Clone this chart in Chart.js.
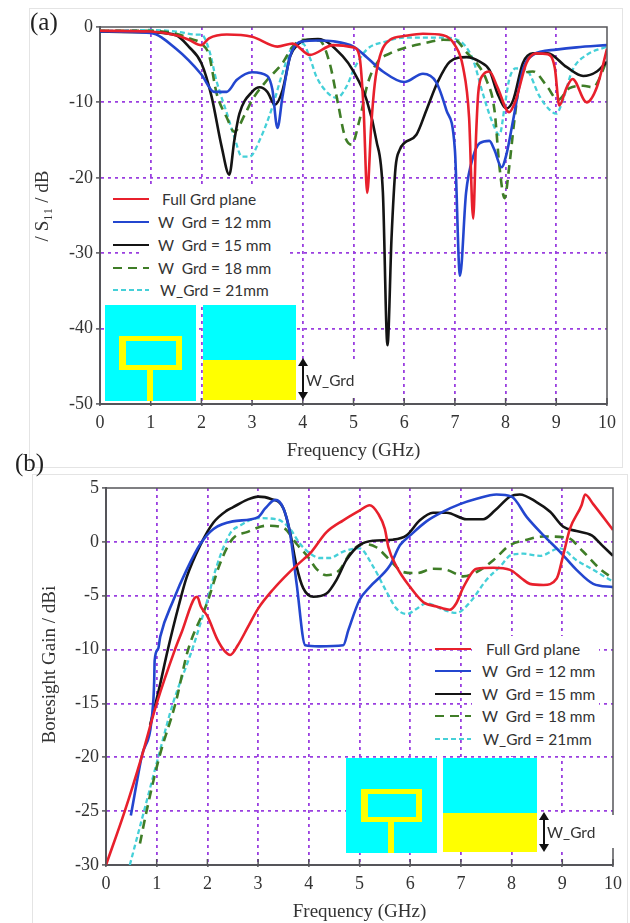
<!DOCTYPE html>
<html>
<head>
<meta charset="utf-8">
<title>S11 and boresight gain</title>
<script src="https://cdn.jsdelivr.net/npm/chart.js@4"></script>
<style>
    html, body { margin: 0; padding: 0; background: #fff; }
    #page { position: relative; width: 630px; height: 923px; overflow: hidden; filter: blur(0.45px); }
    #page canvas { position: absolute; left: 0; }
    .frame { position: absolute; border: 1px solid #e4e4e4; box-sizing: border-box; }
    .panel-tag { position: absolute; font: 25px "Liberation Serif", serif; color: #222; }
    .mask { position: absolute; background: #fff; }
    .legend-text { position: absolute; font: 15.5px Lato, sans-serif; color: #333; white-space: pre; line-height: 16px; }
    .block { position: absolute; }
    .cyan { background: #00ffff; }
    .yellow { background: #ffff00; }
    .dim-label { position: absolute; font: 15.5px Lato, sans-serif; color: #333; }
</style>
</head>
<body>
<div id="page">
    <div class="frame" style="left:29px;top:8px;width:594px;height:460px"></div>
    <div class="frame" style="left:32px;top:474px;width:596px;height:460px"></div>
    <canvas id="s11Chart"></canvas>
    <canvas id="gainChart"></canvas>
</div>
<script>
// tick labels
const freqTicks = [0, 1, 2, 3, 4, 5, 6, 7, 8, 9, 10];
const s11Ticks = [0, -10, -20, -30, -40, -50];
const gainTicks = [5, 0, -5, -10, -15, -20, -25, -30];

// legend
const seriesNames = ['Full Grd plane', 'W  Grd = 12 mm', 'W  Grd = 15 mm', 'W  Grd = 18 mm', 'W_Grd = 21mm'];
const seriesColors = ['#e8202c', '#2346cf', '#141414', '#3f7d27', '#45d0d8'];
const seriesDash = [[], [], [], [9, 6], [5, 3]];
const seriesWidth = [2.6, 2.6, 2.6, 2.6, 2.3];

// (a) S11, GHz / dB
const fullFreqA = [0, 1, 1.5, 1.75, 2, 2.15, 2.5, 3, 3.5, 3.8, 4.14, 4.6, 5, 5.12, 5.2, 5.27, 5.35, 5.42, 5.52, 5.72, 6, 6.37, 6.77, 7, 7.16, 7.28, 7.36, 7.42, 7.46, 7.55, 7.68, 7.84, 8.07, 8.2, 8.41, 8.6, 8.83, 8.97, 9.06, 9.2, 9.32, 9.6, 9.8, 10];
const fullS11 = [-0.5, -0.6, -1.1, -1.7, -2.4, -1.5, -1, -1.3, -2.6, -2.2, -3.7, -2.4, -2.7, -4, -11, -22, -13, -7.5, -3.9, -1.7, -1.2, -0.9, -1.1, -2.4, -5.3, -12, -25.4, -14, -8.8, -6.4, -5.9, -8, -11.3, -9.7, -4.8, -3.5, -3.6, -5.4, -10.4, -8.1, -6.9, -10, -8, -2.9];
const w12FreqA = [0, 1, 1.5, 2, 2.25, 2.5, 2.7, 3, 3.3, 3.4, 3.5, 3.6, 3.75, 4, 4.3, 4.6, 5, 5.26, 5.58, 6, 6.37, 6.63, 6.83, 7, 7.1, 7.22, 7.36, 7.49, 7.68, 7.78, 7.92, 8.02, 8.15, 8.34, 8.54, 9, 9.4, 10];
const w12S11 = [-0.6, -0.8, -2.9, -6.3, -8.6, -8.6, -7, -6, -6.5, -8.3, -13.4, -9.2, -3.9, -1.9, -1.8, -1.9, -2.6, -4, -5.9, -7.3, -6.2, -7.3, -11, -16.3, -33, -22, -17.2, -15.4, -15.1, -16.3, -18.6, -16.8, -12.3, -5.7, -3.7, -3, -2.7, -2.4];
const w15FreqA = [0, 1, 1.5, 1.75, 2, 2.2, 2.4, 2.55, 2.65, 2.75, 3, 3.15, 3.3, 3.45, 3.6, 3.75, 3.9, 4.1, 4.3, 4.79, 5, 5.26, 5.45, 5.58, 5.67, 5.75, 5.83, 5.91, 6, 6.24, 6.44, 6.66, 6.9, 7.23, 7.49, 7.68, 7.84, 8.02, 8.15, 8.34, 8.54, 8.83, 9.2, 9.53, 9.8, 10];
const w15S11 = [-0.6, -0.7, -1.1, -2.6, -4.8, -9.2, -15.9, -19.6, -15, -11.5, -8.6, -8, -8.6, -10.3, -8.4, -3.9, -2.3, -1.7, -1.6, -3.9, -5.9, -9.7, -15, -22, -42.2, -28, -18.6, -16.3, -15.4, -14.3, -11, -7.3, -4.6, -4, -4.6, -5.7, -8.8, -10.8, -9.7, -4.8, -3.5, -3.5, -5.3, -6.5, -5.9, -4.6];
const w18FreqA = [0, 1, 1.5, 1.8, 2, 2.15, 2.3, 2.5, 2.65, 2.85, 3, 3.3, 3.6, 3.8, 4, 4.33, 4.53, 4.69, 4.83, 4.96, 5.12, 5.28, 5.48, 5.72, 6, 6.37, 6.77, 7.02, 7.22, 7.43, 7.62, 7.78, 7.88, 7.98, 8.07, 8.18, 8.3, 8.54, 8.83, 9.03, 9.26, 9.53, 9.72, 10];
const w18S11 = [-0.5, -0.5, -0.9, -1.6, -2.2, -3.7, -8.8, -12, -13.9, -11.7, -9.7, -7, -4.8, -2.6, -1.7, -1.8, -4.8, -10, -14.5, -15.6, -12.3, -7.5, -4.6, -3.5, -2.8, -2.2, -1.7, -1.8, -3.3, -4.8, -7, -11, -18.6, -22.7, -18.6, -12, -6.6, -5.9, -8, -9.7, -8.1, -7.8, -8, -4.5];
const w21FreqA = [0, 1, 1.5, 1.9, 2, 2.15, 2.3, 2.5, 2.65, 2.8, 2.95, 3.15, 3.4, 3.6, 3.8, 4, 4.14, 4.27, 4.5, 4.67, 4.87, 5, 5.26, 5.65, 6, 6.77, 7.16, 7.36, 7.55, 7.72, 7.88, 7.98, 8.07, 8.2, 8.41, 8.67, 8.87, 9, 9.13, 9.32, 9.6, 10];
const w21S11 = [-0.5, -0.4, -0.6, -1, -1, -3, -7.2, -11.4, -14.6, -17.2, -17.2, -15, -10.6, -6.1, -2.6, -2.2, -4.1, -6.6, -8.8, -9.4, -7.8, -5.7, -3, -1.9, -1.4, -1.4, -2.2, -4.4, -8.8, -12.3, -14.3, -10.6, -7, -5.5, -5.7, -9.2, -11, -11.5, -9.7, -5.7, -3.7, -2.6];

// (b) gain, GHz / dBi
const fullFreqB = [0, 0.37, 0.7, 1, 1.36, 1.5, 1.75, 1.8, 1.87, 2, 2.2, 2.35, 2.45, 2.6, 2.8, 3, 3.3, 3.6, 3.9, 4.02, 4.35, 4.68, 5, 5.2, 5.37, 5.5, 5.57, 5.73, 6, 6.26, 6.52, 6.78, 6.91, 7.05, 7.31, 7.64, 7.97, 8.2, 8.36, 8.63, 8.89, 9.02, 9.15, 9.38, 9.45, 9.61, 10];
const fullGain = [-30, -25, -20, -15, -10, -8.3, -5.2, -5.1, -6, -6.9, -9.1, -10.2, -10.5, -9.6, -7.9, -6.2, -4.4, -2.9, -1.6, -1.1, 0.9, 2, 2.9, 3.4, 2.6, 1.2, -0.5, -2.3, -4.2, -5.6, -6, -6.3, -5.7, -4.2, -2.5, -2.4, -2.6, -3.4, -3.9, -4, -3.4, -1.2, 1.2, 3.4, 4.4, 3.5, 1.1];
const w12FreqB = [0.49, 0.7, 0.93, 0.95, 0.96, 1.03, 1.07, 1.33, 1.59, 1.86, 2.12, 2.5, 3, 3.14, 3.34, 3.5, 3.63, 3.76, 3.93, 4.2, 4.68, 4.78, 5, 5.2, 5.6, 5.8, 6, 6.32, 6.65, 6.98, 7.31, 7.7, 8, 8.3, 8.63, 8.95, 9.28, 9.61, 10];
const w12Gain = [-25.4, -20, -15, -13, -11, -9.9, -8.8, -5.4, -2.6, -0.2, 1.2, 1.9, 2.3, 3.1, 3.9, 3.1, 0.8, -3.9, -9.6, -9.7, -9.6, -8.2, -5.4, -4.2, -2.2, -0.3, 0.6, 1.9, 2.8, 3.5, 4, 4.4, 4.2, 2.3, 0.6, -0.9, -2.6, -3.9, -4.2];
const w15FreqB = [0.87, 1.03, 1.22, 1.43, 1.59, 1.86, 2.12, 2.38, 2.5, 2.78, 3, 3.24, 3.5, 3.63, 3.76, 3.89, 4.09, 4.35, 4.55, 4.74, 5, 5.27, 5.66, 5.93, 6.19, 6.45, 6.72, 7.11, 7.44, 7.67, 7.97, 8.16, 8.49, 8.76, 9.02, 9.28, 9.58, 9.78, 10];
const w15Gain = [-17, -14, -10, -6, -3.3, -0.3, 1.8, 2.9, 3.2, 3.9, 4.2, 4, 3.1, 0.9, -2.3, -4.3, -5.1, -4.8, -3.5, -1.7, -0.3, 0.1, 0.2, 0.6, 2, 2.7, 2.7, 2.1, 2.1, 2.9, 4.2, 4.4, 3.7, 2.8, 1.4, 1, 0.6, -0.3, -1.3];
const w18FreqB = [0.67, 0.8, 1.05, 1.37, 1.62, 2, 2.25, 2.5, 2.78, 3.17, 3.5, 3.76, 4, 4.15, 4.35, 4.61, 4.81, 5.07, 5.33, 5.6, 5.86, 6.13, 6.45, 6.72, 7.05, 7.31, 7.64, 7.97, 8.3, 8.63, 9.09, 9.41, 9.74, 10];
const w18Gain = [-28, -25, -20, -15, -10, -5.6, -2, 0.3, 0.9, 1.5, 1.3, -0.2, -1.5, -2.5, -3.1, -2.6, -1.1, -0.2, -0.5, -1.7, -2.8, -2.9, -2.5, -2.6, -3.2, -2.8, -1.7, -0.3, 0.2, 0.5, 0.4, -0.9, -2.5, -3.4];
const w21FreqB = [0.47, 0.75, 1.03, 1.32, 1.7, 2, 2.18, 2.45, 2.64, 3, 3.37, 3.63, 3.83, 4.03, 4.22, 4.41, 4.68, 5, 5.27, 5.53, 5.73, 5.93, 6.13, 6.32, 6.65, 6.91, 7.18, 7.51, 7.77, 8, 8.23, 8.56, 8.95, 9.28, 9.61, 10];
const w21Gain = [-30, -25, -20, -15, -10, -5.4, -2.3, 0.8, 1.5, 2.2, 2.1, 1.2, -0.2, -1.1, -1.5, -1.5, -0.9, -0.6, -2.3, -4.6, -6.2, -6.7, -6.2, -5.7, -6.3, -6.6, -5.6, -3.5, -2.3, -1.2, -1.1, -1.3, -0.6, -1.7, -2.6, -3.7];

const axisColor = '#55555a';
const gridColor = '#9a3fe0';
const tickFont = { family: '"Liberation Serif", serif', size: 18 };
const titleFont = { family: '"Liberation Serif", serif', size: 19 };

function toPoints(xs, ys) {
    return xs.map((x, i) => ({ x: x, y: ys[i] }));
}

function buildDatasets(pairs) {
    return pairs.map((pair, i) => ({
        label: seriesNames[i],
        data: toPoints(pair[0], pair[1]),
        borderColor: seriesColors[i],
        borderWidth: seriesWidth[i],
        borderDash: seriesDash[i],
        pointRadius: 0,
        cubicInterpolationMode: 'monotone',
        fill: false
    }));
}

// draws the top/right spines and the short inner ticks of the original axes
const spinePlugin = {
    id: 'spines',
    afterDatasetsDraw(chart) {
        const { ctx, chartArea: a, scales } = chart;
        ctx.save();
        ctx.strokeStyle = axisColor;
        ctx.lineWidth = 1.5;
        ctx.beginPath();
        ctx.moveTo(a.left, a.top);
        ctx.lineTo(a.right, a.top);
        ctx.lineTo(a.right, a.bottom);
        ctx.stroke();
        ctx.beginPath();
        scales.x.ticks.forEach(t => {
            const px = scales.x.getPixelForValue(t.value);
            ctx.moveTo(px, a.bottom);
            ctx.lineTo(px, a.bottom - 6);
        });
        ctx.stroke();
        ctx.restore();
    }
};

// pins the plot rectangle to the pixels measured on the reference
function makeChart(id, canvasTop, canvasHeight, box, yTicks, yMin, yMax, yTitle, pairs) {
    const canvas = document.getElementById(id);
    canvas.width = 630;
    canvas.height = canvasHeight;
    canvas.style.top = canvasTop + 'px';
    const edgeHidden = (min, max) => ctx => (ctx.tick && (ctx.tick.value === min || ctx.tick.value === max)) ? 'transparent' : gridColor;
    return new Chart(canvas, {
        type: 'line',
        data: { datasets: buildDatasets(pairs) },
        options: {
            responsive: false,
            animation: false,
            devicePixelRatio: 1,
            layout: { padding: { top: box.top, right: 630 - box.right, left: 0, bottom: 0 } },
            plugins: { legend: { display: false }, tooltip: { enabled: false } },
            scales: {
                x: {
                    type: 'linear',
                    min: 0,
                    max: 10,
                    afterBuildTicks: s => { s.ticks = freqTicks.map(v => ({ value: v })); },
                    afterFit: s => { s.height = canvasHeight - box.bottom; },
                    ticks: { font: tickFont, color: '#333', maxRotation: 0, autoSkip: false, padding: 6, callback: v => String(v) },
                    grid: { color: edgeHidden(0, 10), lineWidth: 1.8, tickColor: axisColor, tickLength: 2, tickWidth: 1.5 },
                    border: { color: axisColor, width: 2, dash: [3, 4] },
                    title: { display: true, text: 'Frequency (GHz)', font: titleFont, color: '#333', padding: { top: 3, bottom: 0 } }
                },
                y: {
                    type: 'linear',
                    min: yMin,
                    max: yMax,
                    afterBuildTicks: s => { s.ticks = yTicks.map(v => ({ value: v })); },
                    afterFit: s => { s.width = box.left; },
                    ticks: { font: tickFont, color: '#333', autoSkip: false, padding: 3, callback: v => String(v) },
                    grid: { color: edgeHidden(yMin, yMax), lineWidth: 1.8, tickColor: axisColor, tickLength: 4, tickWidth: 1.5 },
                    border: { color: axisColor, width: 2, dash: [3, 4] },
                    title: { display: true, text: yTitle, font: titleFont, color: '#333', padding: { top: box.titleTop, bottom: 0 } }
                }
            }
        },
        plugins: [spinePlugin]
    });
}

function addEl(cls, left, top, width, height, text) {
    const el = document.createElement('div');
    el.className = cls;
    el.style.left = left + 'px';
    el.style.top = top + 'px';
    if (width) el.style.width = width + 'px';
    if (height) el.style.height = height + 'px';
    if (text) el.textContent = text;
    document.getElementById('page').appendChild(el);
    return el;
}

// HTML legend, same series styles as the chart
function addLegend(sampleX, rowYs, textXs) {
    seriesNames.forEach((name, i) => {
        const svgNs = 'http://www.w3.org/2000/svg';
        const svg = document.createElementNS(svgNs, 'svg');
        svg.setAttribute('width', 36);
        svg.setAttribute('height', 4);
        svg.style.cssText = 'position:absolute;left:' + sampleX + 'px;top:' + (rowYs[i] - 2) + 'px';
        const line = document.createElementNS(svgNs, 'line');
        line.setAttribute('x1', 0);
        line.setAttribute('x2', 36);
        line.setAttribute('y1', 2);
        line.setAttribute('y2', 2);
        line.setAttribute('stroke', seriesColors[i]);
        line.setAttribute('stroke-width', 2);
        if (seriesDash[i].length) line.setAttribute('stroke-dasharray', seriesDash[i].join(' '));
        svg.appendChild(line);
        document.getElementById('page').appendChild(svg);
        addEl('legend-text', textXs[i], rowYs[i] - 8, 0, 0, name);
    });
}

function addInset(x1, x2, top, bottom, yellowTop, ring, stem) {
    // x1 = patch sheet, x2 = ground sheet
    addEl('block cyan', x1[0], top, x1[1] - x1[0], bottom - top);
    addEl('block yellow', ring[0], ring[2], ring[1] - ring[0], ring[3] - ring[2]);
    addEl('block cyan', ring[0] + 6.5, ring[2] + 5, ring[1] - ring[0] - 13, ring[3] - ring[2] - 10);
    addEl('block yellow', stem[0], ring[3], stem[1] - stem[0], stem[2] - ring[3]);
    addEl('block cyan', x2[0], top, x2[1] - x2[0], yellowTop - top);
    addEl('block yellow', x2[0], yellowTop, x2[1] - x2[0], x2[2] - yellowTop);
}

function addArrow(x, y1, y2) {
    const svgNs = 'http://www.w3.org/2000/svg';
    const svg = document.createElementNS(svgNs, 'svg');
    svg.setAttribute('width', 14);
    svg.setAttribute('height', y2 - y1);
    svg.style.cssText = 'position:absolute;left:' + (x - 7) + 'px;top:' + y1 + 'px';
    const h = y2 - y1;
    const path = document.createElementNS(svgNs, 'path');
    path.setAttribute('d', 'M7 0L12 8H8V' + (h - 8) + 'H12L7 ' + h + 'L2 ' + (h - 8) + 'H6V8H2Z');
    path.setAttribute('fill', '#111');
    svg.appendChild(path);
    document.getElementById('page').appendChild(svg);
}

// leading spaces lift the rotated titles above the axis middle, as in the reference
makeChart('s11Chart', 0, 462, { left: 100, right: 607, top: 27, bottom: 404, titleTop: 32 },
    s11Ticks, -50, 0, '    / S\u2081\u2081 / dB',
    [[fullFreqA, fullS11], [w12FreqA, w12S11], [w15FreqA, w15S11], [w18FreqA, w18S11], [w21FreqA, w21S11]]);

// canvas b starts at y=462 on the page, so its plot box is in canvas pixels
makeChart('gainChart', 462, 461, { left: 106, right: 613, top: 26, bottom: 403, titleTop: 39 },
    gainTicks, -30, 5, '     Boresight Gain / dBi',
    [[fullFreqB, fullGain], [w12FreqB, w12Gain], [w15FreqB, w15Gain], [w18FreqB, w18Gain], [w21FreqB, w21Gain]]);

addEl('panel-tag', 30, 8, 0, 0, '(a)');
addEl('panel-tag', 15, 449, 0, 0, '(b)');

// (a) overlay
addEl('mask', 143, 184, 145, 120);
addEl('mask', 304, 362, 52, 35);
addLegend(113, [199, 222, 245, 268, 290], [162, 158, 158, 158, 160]);
addInset([105, 196], [203, 296, 400], 305, 401, 360, [119, 182, 336, 370], [147, 153, 401]);
addArrow(303, 358, 400);
addEl('dim-label', 306, 371, 0, 0, 'W_Grd');

// (b) overlay
addEl('mask', 472, 636, 127, 120);
addEl('mask', 437, 756, 6, 97);
addEl('mask', 546, 815, 70, 33);
addLegend(435, [649, 671, 694, 716, 739], [486, 482, 482, 482, 483]);
addInset([346, 437], [443, 537, 852], 758, 853, 813, [361, 422, 789, 822], [388, 394, 853]);
addArrow(544, 812, 852);
addEl('dim-label', 547, 823, 0, 0, 'W_Grd');
</script>
</body>
</html>
